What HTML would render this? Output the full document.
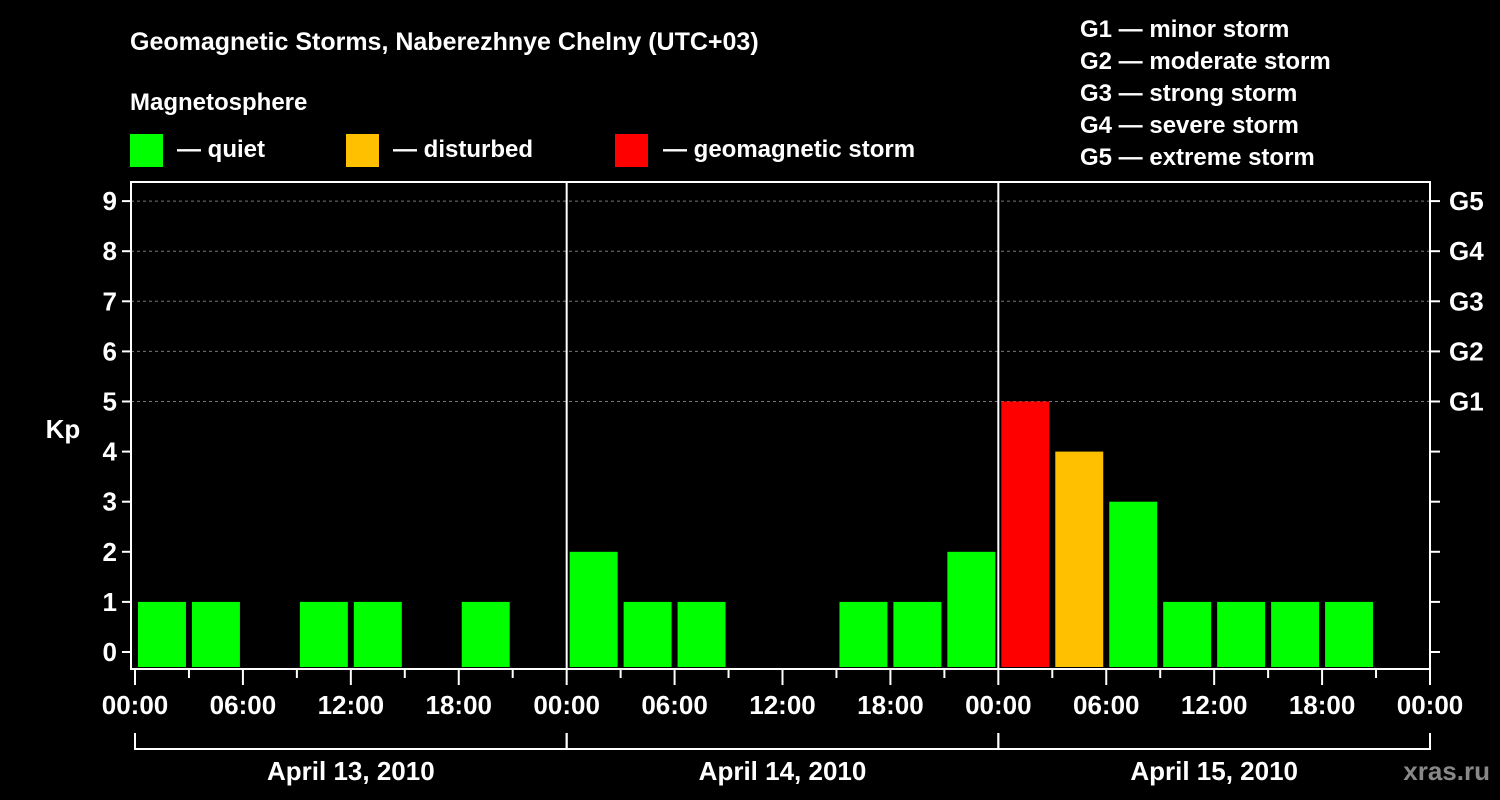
<!DOCTYPE html>
<html><head><meta charset="utf-8"><style>
html,body{margin:0;padding:0;background:#000;width:1500px;height:800px;overflow:hidden}
svg{display:block;font-family:"Liberation Sans",sans-serif;font-weight:bold}
</style></head><body>
<svg id="c" width="1500" height="800">
<text x="130" y="50" fill="#fff" font-size="25">Geomagnetic Storms, Naberezhnye Chelny (UTC+03)</text>
<text x="130" y="110" fill="#fff" font-size="24">Magnetosphere</text>
<rect x="130" y="134" width="33" height="33" fill="#00ff00"/>
<text x="177" y="157" fill="#fff" font-size="24">— quiet</text>
<rect x="346" y="134" width="33" height="33" fill="#ffc000"/>
<text x="393" y="157" fill="#fff" font-size="24">— disturbed</text>
<rect x="615" y="134" width="33" height="33" fill="#ff0000"/>
<text x="663" y="157" fill="#fff" font-size="24">— geomagnetic storm</text>
<g fill="#fff" font-size="24">
<text x="1080" y="37">G1 — minor storm</text>
<text x="1080" y="69">G2 — moderate storm</text>
<text x="1080" y="101">G3 — strong storm</text>
<text x="1080" y="133">G4 — severe storm</text>
<text x="1080" y="165">G5 — extreme storm</text>
</g>
<text x="63" y="438" fill="#fff" font-size="26" text-anchor="middle">Kp</text>
<text x="1490" y="780" fill="#888" font-size="26" text-anchor="end">xras.ru</text>
<g id="plot"></g>
</svg>
<script>
const days = ["April 13, 2010","April 14, 2010","April 15, 2010"];
const kpValues = [1,1,null,1,1,null,1,null, 2,1,1,null,null,1,1,2, 5,4,3,1,1,1,1,null];
const yTicks = [0,1,2,3,4,5,6,7,8,9];
const gLabels = ["G1","G2","G3","G4","G5"];
const xTickLabels = ["00:00","06:00","12:00","18:00"];

const NS="http://www.w3.org/2000/svg";
const g=document.getElementById('plot');
const X0=135,X1=1430,TOP=182,BOT=669;
const slots=kpValues.length, slotW=(X1-X0)/slots;
const xs=i=>X0+i*slotW;
const ys=v=>652-v*50.1;
function el(t,a,txt){const e=document.createElementNS(NS,t);for(const k in a)e.setAttribute(k,a[k]);if(txt!==undefined)e.textContent=txt;g.appendChild(e);return e;}

// gridlines
yTicks.forEach(v=>{
  if(v>=5){const l=el('line',{x1:131,x2:X1,y1:ys(v),y2:ys(v),stroke:'#777','stroke-dasharray':'3,3','stroke-width':1});
  
  }
  const t=el('line',{x1:122,x2:131,y1:ys(v),y2:ys(v),stroke:'#fff','stroke-width':2});
  
  
  const tx=el('text',{x:117,y:ys(v)+9,fill:'#fff','font-size':26,'text-anchor':'end'},String(v));
  
  
  const rt=el('line',{x1:X1,x2:X1+10,y1:ys(v),y2:ys(v),stroke:'#fff','stroke-width':2});
  
  
});
gLabels.forEach((s,i)=>{
  const t=el('text',{x:1449,y:ys(5+i)+9,fill:'#fff','font-size':26},s);
  
  
});
// bars
kpValues.forEach((v,i)=>{
  if(v===null)return;
  const c=v>=5?'#ff0000':(v>=4?'#ffc000':'#00ff00');
  const r=el('rect',{x:xs(i)+3,y:ys(v),width:slotW-6,height:BOT-2-ys(v),fill:c});
  
  
});
// day separators
for(let d=1;d<days.length;d++){
  const l=el('line',{x1:xs(d*8),x2:xs(d*8),y1:TOP,y2:BOT,stroke:'#fff','stroke-width':2});
  
  
}
// frame
const f=el('rect',{x:131,y:TOP,width:X1-131,height:BOT-TOP,fill:'none',stroke:'#fff','stroke-width':2});


// x ticks
for(let i=0;i<=slots;i++){
  const major=i%2===0;
  const t=el('line',{x1:xs(i),x2:xs(i),y1:BOT,y2:BOT+(major?16:9),stroke:'#fff','stroke-width':2});
  
  
  if(major){
    const tx=el('text',{x:xs(i),y:714,fill:'#fff','font-size':26,'text-anchor':'middle'},xTickLabels[(i/2)%4]);
    
    
  }
}
// date brackets
days.forEach((d,k)=>{
  const a=xs(k*8),b=xs(k*8+8);
  const p=el('path',{d:`M${a} 733V749H${b}`+(k===days.length-1?'V733':''),fill:'none',stroke:'#fff','stroke-width':2});
  
  
  if(k>0){const q=el('line',{x1:a,x2:a,y1:733,y2:749,stroke:'#fff','stroke-width':2});}
  const t=el('text',{x:(a+b)/2,y:780,fill:'#fff','font-size':26,'text-anchor':'middle'},d);
  
  
});
</script>
</body></html>
